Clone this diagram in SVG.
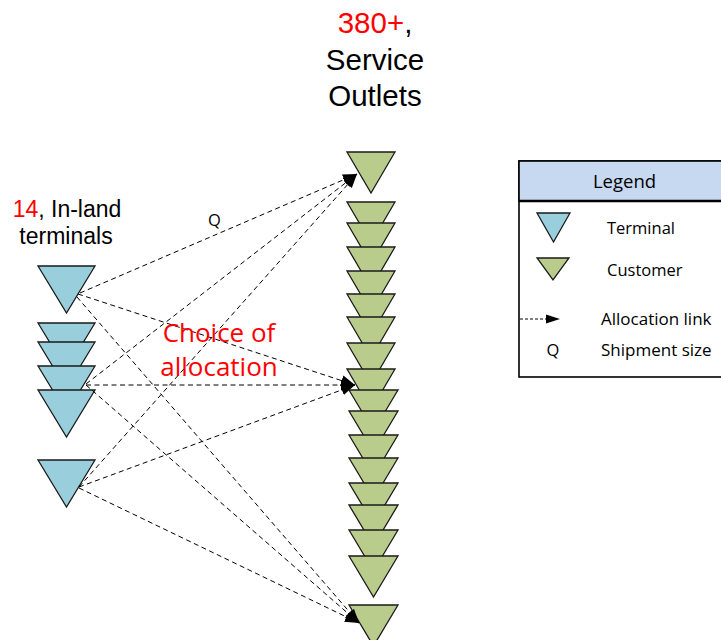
<svg xmlns="http://www.w3.org/2000/svg" width="721" height="640" viewBox="0 0 721 640">
<style>
.t{fill:#99cfdc;stroke:#1a1a1a;stroke-width:1.3;stroke-linejoin:miter}
.g{fill:#b9cc8c;stroke:#1a1a1a;stroke-width:1.3}
.ln{fill:none;stroke:#000;stroke-width:1;stroke-dasharray:5 3.5}
.ar{font-family:"Liberation Sans",Arial,sans-serif}
.cb{font-family:"Open Sans","Noto Sans",sans-serif}
.red{fill:#ff0000}
</style>
<defs>
<marker id="ah" markerUnits="userSpaceOnUse" markerWidth="15" markerHeight="12" refX="14" refY="5.5" orient="auto">
<path d="M0,0 L14,5.5 L0,11 z" fill="#000"/>
</marker>
</defs>
<rect width="721" height="640" fill="#fff"/>

<g id="title-outlets" class="ar" font-size="29.5" text-anchor="middle">
<text x="375" y="33"><tspan class="red">380+</tspan>,</text>
<text x="375" y="69.5">Service</text>
<text x="375" y="106">Outlets</text>
</g>

<g id="title-terminals" class="ar" font-size="23" text-anchor="middle">
<text x="67" y="217"><tspan class="red">14</tspan>, In-land</text>
<text x="66" y="244">terminals</text>
</g>

<g id="terminals">
<polygon id="terminal-1" class="t" points="38,266 95,266 66.5,313"/>
<polygon id="terminal-2" class="t" points="38,323 95,323 66.5,370"/>
<polygon id="terminal-3" class="t" points="38,342 95,342 66.5,389"/>
<polygon id="terminal-4" class="t" points="38,366 95,366 66.5,413"/>
<polygon id="terminal-5" class="t" points="38,390 95,390 66.5,437"/>
<polygon id="terminal-6" class="t" points="38,460 95,460 66.5,507"/>
</g>

<g id="outlets">
<polygon id="outlet-1" class="g" points="347,152 395,152 371,193"/>
<polygon id="outlet-2" class="g" points="347,202 395,202 371,243"/>
<polygon id="outlet-3" class="g" points="347,223 395,223 371,264"/>
<polygon id="outlet-4" class="g" points="347,247 395,247 371,288"/>
<polygon id="outlet-5" class="g" points="347,271 395,271 371,312"/>
<polygon id="outlet-6" class="g" points="347,294 395,294 371,335"/>
<polygon id="outlet-7" class="g" points="347,317 395,317 371,358"/>
<polygon id="outlet-8" class="g" points="347,343 395,343 371,384"/>
<polygon id="outlet-9" class="g" points="347,369 395,369 371,410"/>
<polygon id="outlet-10" class="g" points="349,390 398,390 373.5,431"/>
<polygon id="outlet-11" class="g" points="349,411 398,411 373.5,452"/>
<polygon id="outlet-12" class="g" points="349,435 398,435 373.5,476"/>
<polygon id="outlet-13" class="g" points="349,458 398,458 373.5,499"/>
<polygon id="outlet-14" class="g" points="349,483 398,483 373.5,524"/>
<polygon id="outlet-15" class="g" points="349,505 398,505 373.5,546"/>
<polygon id="outlet-16" class="g" points="349,530 398,530 373.5,571"/>
<polygon id="outlet-17" class="g" points="349,556 398,556 373.5,597"/>
<polygon id="outlet-18" class="g" points="349,605 398,605 373.5,646"/>
</g>

<g id="connectors">
<line class="ln" x1="80" y1="293" x2="357" y2="174" marker-end="url(#ah)"/>
<line class="ln" x1="78" y1="294" x2="355" y2="385" marker-end="url(#ah)"/>
<line class="ln" x1="77" y1="297" x2="359" y2="623" marker-end="url(#ah)"/>
<line class="ln" x1="86" y1="384" x2="357" y2="174" marker-end="url(#ah)"/>
<line class="ln" x1="86" y1="385" x2="355" y2="385" marker-end="url(#ah)"/>
<line class="ln" x1="86" y1="385" x2="359" y2="623" marker-end="url(#ah)"/>
<line class="ln" x1="79" y1="487" x2="357" y2="174" marker-end="url(#ah)"/>
<line class="ln" x1="79" y1="487" x2="355" y2="385" marker-end="url(#ah)"/>
<line class="ln" x1="79" y1="488" x2="359" y2="623" marker-end="url(#ah)"/>
</g>

<g id="label-q" class="cb" font-size="16.5">
<text x="208" y="226">Q</text>
</g>

<g id="label-choice" class="cb red" font-size="26" text-anchor="middle">
<text x="219" y="342">Choice of</text>
<text x="219" y="376">allocation</text>
</g>

<g id="legend">
<rect x="519" y="161" width="215" height="216" fill="#fff" stroke="#000" stroke-width="1.6"/>
<rect x="519" y="161" width="215" height="40" fill="#c6d9f0" stroke="#000" stroke-width="1.6"/>
<line x1="519" y1="201" x2="721" y2="201" stroke="#000" stroke-width="2.5"/>
<text class="cb" x="624.5" y="188" font-size="18.5" text-anchor="middle">Legend</text>
<polygon class="t" points="537,213 570,213 553.5,242" stroke-width="1"/>
<text class="cb" x="607" y="234" font-size="16.5">Terminal</text>
<polygon class="g" points="537,258 569,258 553,280" stroke-width="1"/>
<text class="cb" x="607" y="276" font-size="16.5">Customer</text>
<line x1="520" y1="319" x2="548" y2="319" stroke="#000" stroke-width="1" stroke-dasharray="3 2"/>
<path d="M546,314.5 L560,319 L546,323.5 z" fill="#000"/>
<text class="cb" x="601" y="325" font-size="17">Allocation link</text>
<text class="cb" x="553" y="356" font-size="16.5" text-anchor="middle">Q</text>
<text class="cb" x="601" y="356" font-size="17">Shipment size</text>
</g>
</svg>
